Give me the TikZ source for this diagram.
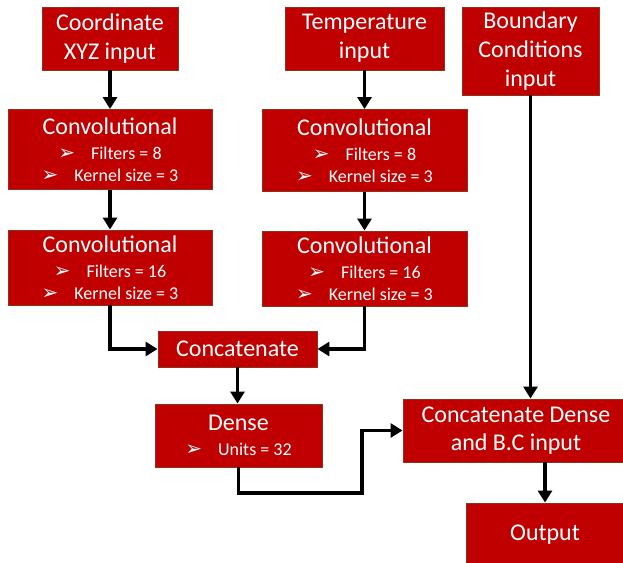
\documentclass[tikz,border=0pt]{standalone}
\usepackage{fontspec}
\setmainfont{Carlito}
\newfontfamily\bulletfont{DejaVu Sans}
\usetikzlibrary{arrows.meta}

\definecolor{boxred}{RGB}{192,0,0}
\definecolor{boxedge}{RGB}{140,50,30}

\newcommand{\titletext}{\fontsize{18}{21.5}\selectfont}
\newcommand{\itemtext}{\fontsize{13.5}{16.5}\selectfont}
\newcommand{\itm}[1]{{\bulletfont\fontsize{15}{16.5}\selectfont ➢}\hspace{12pt}#1}

\tikzset{
  block/.style={rectangle,fill=boxred,draw=boxedge,line width=0.7pt,
    text=white,align=center,inner sep=0pt,font=\titletext},
  flow/.style={-{Triangle[width=10.5pt,length=9pt]},line width=2.6pt,black}
}

\begin{document}
\begin{tikzpicture}[x=0.75pt,y=-0.75pt]
  \useasboundingbox (0,0) rectangle (623,562);
  \clip (0,0) rectangle (623,562);

  % inputs
  \node[block,minimum width=102pt,minimum height=47.25pt] (coord) at (110,38.5) {Coordinate\\XYZ input};
  \node[block,minimum width=119.25pt,minimum height=47.25pt] (temp) at (364.5,38.5) {Temperature\\input};
  \node[block,minimum width=102.75pt,minimum height=66pt] (bc) at (530.5,51) {Boundary\\Conditions\\input};

  % convolution layers
  \node[block,minimum width=153pt,minimum height=60pt] (convA1) at (110,149.5)
    {Convolutional\\[-2.5pt]\itemtext\itm{Filters = 8}\\[-5.5pt]\itemtext\itm{Kernel size = 3}};
  \node[block,minimum width=153.75pt,minimum height=61.5pt] (convB1) at (364.5,150.5)
    {Convolutional\\[-2.5pt]\itemtext\itm{Filters = 8}\\[-5.5pt]\itemtext\itm{Kernel size = 3}};
  \node[block,minimum width=153pt,minimum height=56.25pt] (convA2) at (110,267.5)
    {Convolutional\\[-2.5pt]\itemtext\itm{Filters = 16}\\[-5.5pt]\itemtext\itm{Kernel size = 3}};
  \node[block,minimum width=153.75pt,minimum height=56.25pt] (convB2) at (364.5,268.5)
    {Convolutional\\[-2.5pt]\itemtext\itm{Filters = 16}\\[-5.5pt]\itemtext\itm{Kernel size = 3}};

  \node[block,minimum width=119.25pt,minimum height=27pt] (concat) at (237.5,349) {Concatenate};
  \node[block,minimum width=125.25pt,minimum height=47.25pt] (dense) at (238.5,435.5)
    {Dense\\[-2.5pt]\itemtext\itm{Units = 32}};
  \node[block,minimum width=169.5pt,minimum height=47.25pt] (cdense) at (516,430.5) {Concatenate Dense\\and B.C input};
  \node[block,minimum width=118.5pt,minimum height=48pt] (output) at (545,535) {Output};

  \coordinate (bend) at (362,493);

  \foreach \from/\to in {coord/convA1, temp/convB1, convA1/convA2, convB1/convB2}
    \draw[flow] (\from) -- (\to);

  \draw[flow] (convA2.south) |- (concat.west);
  \draw[flow] (convB2.south) |- (concat.east);
  \draw[flow] (concat.south) -- (concat.south |- dense.north);
  \draw[flow] (bc.south) -- (bc.south |- cdense.north);
  \draw[flow] (dense.south) |- (bend) |- (cdense.west);
  \draw[flow] (output.north |- cdense.south) -- (output.north);

\end{tikzpicture}
\end{document}
